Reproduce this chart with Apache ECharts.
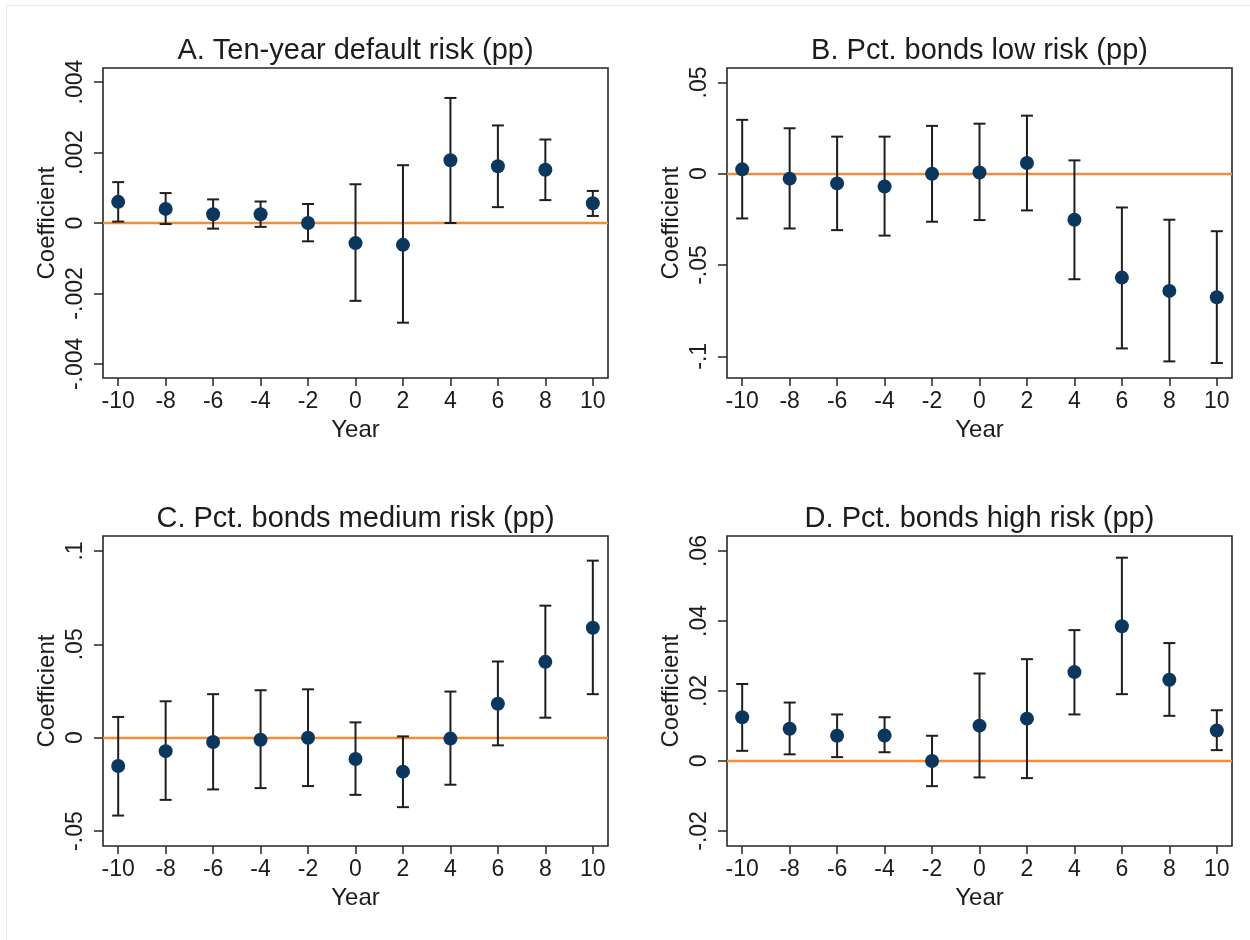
<!DOCTYPE html>
<html>
<head>
<meta charset="utf-8">
<script src="https://cdn.jsdelivr.net/npm/echarts@6.0.0/dist/echarts.min.js"></script>
<style>
  html, body { margin: 0; padding: 0; background: #ffffff; }
  #chart { width: 1250px; height: 940px; }
</style>
</head>
<body>
<div id="chart"></div>
<script>
// ---------- data ----------
const years = [-10, -8, -6, -4, -2, 0, 2, 4, 6, 8, 10];

const titleA = 'A. Ten-year default risk (pp)';
const pointA = [0.0006, 0.0004, 0.00025, 0.00025, 0, -0.00057, -0.00062, 0.00178, 0.00161, 0.00151, 0.00056];
const upperA = [0.00116, 0.00085, 0.00067, 0.00061, 0.00054, 0.0011, 0.00164, 0.00355, 0.00277, 0.00237, 0.00091];
const lowerA = [0.00004, -0.00003, -0.00016, -0.00011, -0.00052, -0.00221, -0.00283, 0.0, 0.00045, 0.00065, 0.0002];
const yTicksA = [-0.004, -0.002, 0, 0.002, 0.004];
const yLabelsA = ['-.004', '-.002', '0', '.002', '.004'];

const titleB = 'B. Pct. bonds low risk (pp)';
const pointB = [0.0024, -0.0027, -0.0053, -0.007, 0, 0.0007, 0.0059, -0.0252, -0.0569, -0.0642, -0.0677];
const upperB = [0.0295, 0.0249, 0.0203, 0.0203, 0.0262, 0.0274, 0.0318, 0.0073, -0.0185, -0.0252, -0.0315];
const lowerB = [-0.0245, -0.030, -0.0309, -0.0339, -0.0263, -0.0254, -0.0201, -0.0578, -0.0957, -0.1028, -0.1037];
const yTicksB = [-0.1, -0.05, 0, 0.05];
const yLabelsB = ['-.1', '-.05', '0', '.05'];

const titleC = 'C. Pct. bonds medium risk (pp)';
const pointC = [-0.0152, -0.0072, -0.0023, -0.0011, 0, -0.0114, -0.0182, -0.0005, 0.0182, 0.0406, 0.0589];
const upperC = [0.0111, 0.0195, 0.0233, 0.0254, 0.0259, 0.0082, 0.0007, 0.0247, 0.0408, 0.0707, 0.0948];
const lowerC = [-0.0417, -0.0333, -0.0277, -0.027, -0.0259, -0.0306, -0.0372, -0.0252, -0.0041, 0.0107, 0.0233];
const yTicksC = [-0.05, 0, 0.05, 0.1];
const yLabelsC = ['-.05', '0', '.05', '.1'];

const titleD = 'D. Pct. bonds high risk (pp)';
const pointD = [0.0125, 0.0092, 0.0072, 0.0073, 0, 0.0101, 0.0121, 0.0254, 0.0385, 0.0232, 0.0087];
const upperD = [0.022, 0.0167, 0.0133, 0.0125, 0.0072, 0.025, 0.0291, 0.0374, 0.0581, 0.0337, 0.0145];
const lowerD = [0.0029, 0.0019, 0.0011, 0.0025, -0.0072, -0.0047, -0.0049, 0.0133, 0.0191, 0.0129, 0.0031];
const yTicksD = [-0.02, 0, 0.02, 0.04, 0.06];
const yLabelsD = ['-.02', '0', '.02', '.04', '.06'];

const xLabel = 'Year';
const yLabel = 'Coefficient';

// ---------- layout / style ----------
const FONT = "'Liberation Sans', Arial, Helvetica, sans-serif";
const TEXT = '#1c1c1c';
const FRAME = '#262626';
const DOT = '#0b365e';
const BAR = '#1e1e1e';
const ZERO = '#f28c35';

const panels = [
  { title: titleA, point: pointA, upper: upperA, lower: lowerA, ticks: yTicksA, labels: yLabelsA,
    yMin: -0.0044, yMax: 0.0044, grid: { left: 103, top: 68, width: 505, height: 310 } },
  { title: titleB, point: pointB, upper: upperB, lower: lowerB, ticks: yTicksB, labels: yLabelsB,
    yMin: -0.1119, yMax: 0.0579, grid: { left: 727, top: 68, width: 505, height: 310 } },
  { title: titleC, point: pointC, upper: upperC, lower: lowerC, ticks: yTicksC, labels: yLabelsC,
    yMin: -0.058, yMax: 0.108, grid: { left: 103, top: 536, width: 505, height: 310 } },
  { title: titleD, point: pointD, upper: upperD, lower: lowerD, ticks: yTicksD, labels: yLabelsD,
    yMin: -0.0243, yMax: 0.0643, grid: { left: 727, top: 536, width: 505, height: 310 } }
];

function renderErr(params, api) {
  const x = api.value(0), lo = api.value(1), hi = api.value(2);
  const p1 = api.coord([x, lo]);
  const p2 = api.coord([x, hi]);
  const w = 6;
  const style = { stroke: BAR, lineWidth: 2 };
  return {
    type: 'group',
    children: [
      { type: 'line', shape: { x1: p1[0], y1: p1[1], x2: p2[0], y2: p2[1] }, style: style },
      { type: 'line', shape: { x1: p1[0] - w, y1: p1[1], x2: p1[0] + w, y2: p1[1] }, style: style },
      { type: 'line', shape: { x1: p2[0] - w, y1: p2[1], x2: p2[0] + w, y2: p2[1] }, style: style }
    ]
  };
}

const option = {
  animation: false,
  backgroundColor: '#ffffff',
  textStyle: { fontFamily: FONT },
  graphic: [
    { type: 'line', shape: { x1: 6, y1: 5.5, x2: 1250, y2: 5.5 }, style: { stroke: '#e4ebec', lineWidth: 1 } },
    { type: 'line', shape: { x1: 6.5, y1: 5, x2: 6.5, y2: 940 }, style: { stroke: '#e4ebec', lineWidth: 1 } }
  ],
  title: [],
  grid: [],
  xAxis: [],
  yAxis: [],
  series: []
};

panels.forEach(function (p, i) {
  option.title.push({
    text: p.title,
    left: p.grid.left + p.grid.width / 2 - 5,
    top: p.grid.top - 37,
    textAlign: 'center',
    textStyle: { fontFamily: FONT, fontSize: 29, fontWeight: 'normal', color: TEXT }
  });
  option.grid.push(Object.assign({
    show: true, borderColor: FRAME, borderWidth: 1.6, backgroundColor: '#ffffff', containLabel: false
  }, p.grid));
  option.xAxis.push({
    type: 'value', gridIndex: i, min: -10.64, max: 10.64, position: 'bottom',
    splitLine: { show: false },
    axisLine: { show: false, onZero: false },
    axisTick: { show: true, customValues: years, length: 8, lineStyle: { color: FRAME, width: 1.5 } },
    axisLabel: { customValues: years, margin: 12, fontSize: 23, color: TEXT, fontFamily: FONT,
                 formatter: function (v) { return String(v); } },
    name: xLabel, nameLocation: 'middle', nameGap: 40,
    nameTextStyle: { fontSize: 24, color: TEXT, fontFamily: FONT }
  });
  option.yAxis.push({
    type: 'value', gridIndex: i, min: p.yMin, max: p.yMax, position: 'left',
    splitLine: { show: false },
    axisLine: { show: false, onZero: false },
    axisTick: { show: true, customValues: p.ticks, length: 9, lineStyle: { color: FRAME, width: 1.5 } },
    axisLabel: {
      customValues: p.ticks, rotate: 90, margin: 16, fontSize: 23, color: TEXT, fontFamily: FONT,
      formatter: function (v) {
        for (let k = 0; k < p.ticks.length; k++) {
          if (Math.abs(p.ticks[k] - v) < 1e-9) return p.labels[k];
        }
        return '';
      }
    },
    name: yLabel, nameLocation: 'middle', nameGap: 44,
    nameTextStyle: { fontSize: 24, color: TEXT, fontFamily: FONT }
  });
  option.series.push({
    type: 'custom', xAxisIndex: i, yAxisIndex: i, z: 3,
    renderItem: renderErr,
    encode: { x: 0, y: [1, 2] },
    data: years.map(function (yr, k) { return [yr, p.lower[k], p.upper[k]]; }),
    silent: true
  });
  option.series.push({
    type: 'scatter', xAxisIndex: i, yAxisIndex: i, z: 4,
    symbol: 'circle', symbolSize: 14,
    itemStyle: { color: DOT, opacity: 1 },
    data: years.map(function (yr, k) { return [yr, p.point[k]]; }),
    silent: true,
    markLine: {
      z: 1, silent: true, symbol: ['none', 'none'],
      label: { show: false },
      lineStyle: { color: ZERO, width: 2.4, type: 'solid', opacity: 1 },
      emphasis: { disabled: true },
      data: [{ yAxis: 0 }]
    }
  });
});

const chart = echarts.init(document.getElementById('chart'), null, { renderer: 'canvas' });
chart.setOption(option);
</script>
</body>
</html>
